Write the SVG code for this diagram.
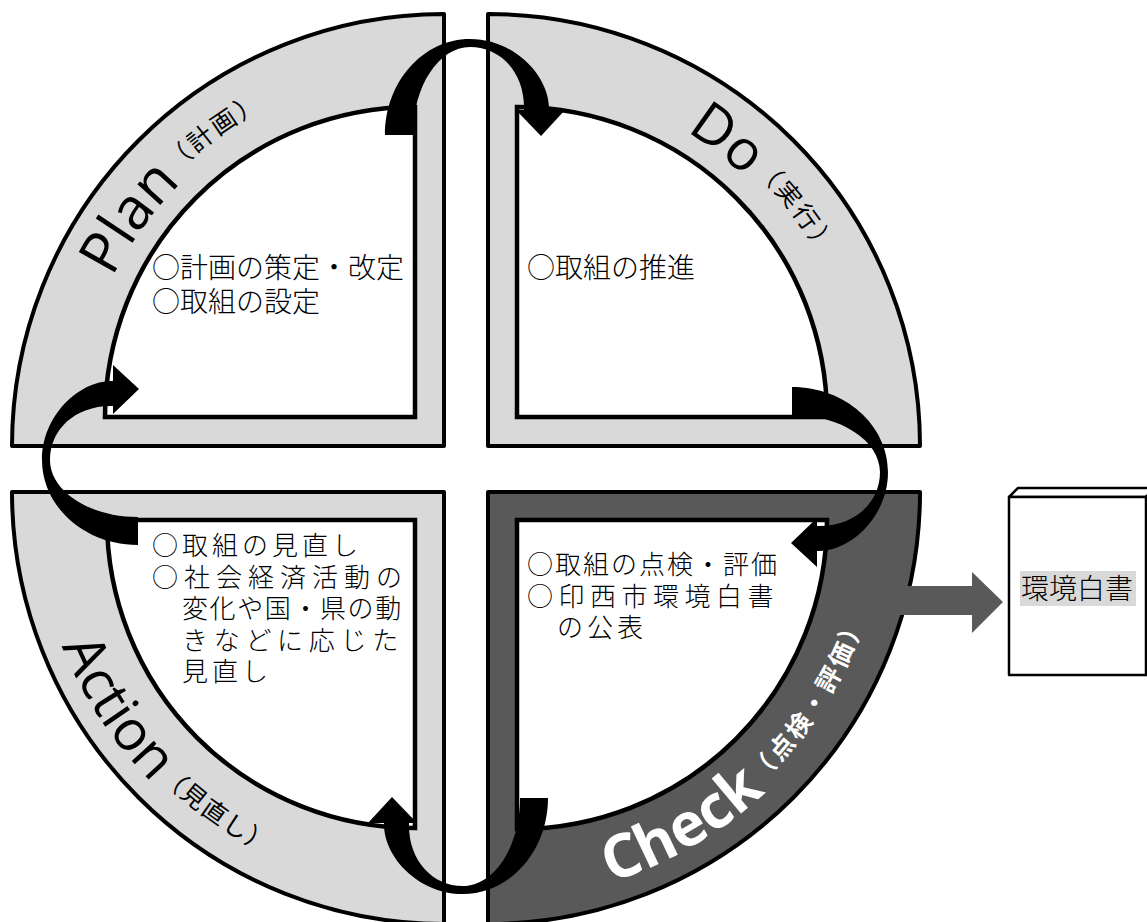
<svg xmlns="http://www.w3.org/2000/svg" xmlns:xlink="http://www.w3.org/1999/xlink" width="1147" height="922" viewBox="0 0 1147 922">
<style>
.ring{fill:#d9d9d9;stroke:#000;stroke-width:4;stroke-linejoin:round}
.ringd{fill:#595959;stroke:#000;stroke-width:4;stroke-linejoin:round}
.inner{fill:#fff;stroke:#000;stroke-width:4.5;stroke-linejoin:miter}
.body{font-family:"Noto Sans CJK JP",sans-serif;font-size:28px;font-weight:300;fill:#000}
.b26{font-size:26px}
.lbl{font-family:"Open Sans","Noto Sans CJK JP",sans-serif;fill:#000}
.sm{font-family:"Noto Sans CJK JP",sans-serif;font-size:25px;letter-spacing:2px}
.chk{font-family:"Open Sans","Noto Sans CJK JP",sans-serif;font-size:60px;font-weight:bold;fill:#fff}
.chksm{font-family:"Noto Sans CJK JP",sans-serif;font-size:25px;font-weight:bold;letter-spacing:4px}
.arr{fill:#000}
.box{fill:#fff;stroke:#000;stroke-width:2.5;stroke-linejoin:round}
</style>
<defs>
<path id="carrow" d="M -85,0 C -85,-53 -47,-96 0,-96 C 45,-96 80,-58 79,-25 L 95,-25 L 71,1 L 46,-25 L 54,-25 C 55,-62 31,-88 0,-88 C -31,-88 -57,-49 -57,0 Z"/>
<path id="pPlan" d="M 72,446 A 372 372 0 0 1 444,74"/>
<path id="pDo" d="M 488,74 A 372 372 0 0 1 860,446"/>
<path id="pAction" d="M 32,492 A 412 412 0 0 0 444,904"/>
<path id="pCheck" d="M 488,901 A 409 409 0 0 0 897,492"/>
</defs>

<g id="plan">
<path class="ring" d="M 444,446 L 12,446 A 432 432 0 0 1 444,14 Z"/>
<path class="inner" d="M 415,417 L 105,417 A 310 310 0 0 1 415,107 Z"/>
<text class="lbl" font-size="58"><textPath href="#pPlan" startOffset="175">Plan<tspan class="sm" dy="-11" dx="3">（計画）</tspan></textPath></text>
<text class="body" x="152" y="278">○計画の策定・改定</text>
<text class="body" x="152" y="312">○取組の設定</text>
</g>

<g id="do">
<path class="ring" d="M 488,446 L 488,14 A 432 432 0 0 1 920,446 Z"/>
<path class="inner" d="M 517,417 L 517,107 A 310 310 0 0 1 827,417 Z"/>
<text class="lbl" font-size="56"><textPath href="#pDo" startOffset="209">Do<tspan class="sm" dy="-11" dx="2">（実行）</tspan></textPath></text>
<text class="body" x="527" y="278">○取組の推進</text>
</g>

<g id="action">
<path class="ring" d="M 444,492 L 444,924 A 432 432 0 0 1 12,492 Z"/>
<path class="inner" d="M 415,520 L 107,520 A 308 308 0 0 0 415,828 Z"/>
<text class="lbl" font-size="56"><textPath href="#pAction" startOffset="158">Action<tspan class="sm" dy="-9" dx="2">（見直し）</tspan></textPath></text>
<text class="body b26" x="152" y="555" letter-spacing="4">○取組の見直し</text>
<text class="body b26" x="152" y="587" letter-spacing="6">○社会経済活動の</text>
<text class="body b26" x="182" y="618" letter-spacing="1.6">変化や国・県の動</text>
<text class="body b26" x="182" y="650" letter-spacing="5.7">きなどに応じた</text>
<text class="body b26" x="182" y="681" letter-spacing="4">見直し</text>
</g>

<g id="check">
<path class="ringd" d="M 488,492 L 920,492 A 432 432 0 0 1 488,924 Z"/>
<path class="inner" d="M 517,520 L 827,520 A 309 309 0 0 1 517,829 Z"/>
<text class="chk"><textPath href="#pCheck" startOffset="124">Check<tspan class="chksm" dy="-11" dx="3">（点検・評価）</tspan></textPath></text>
<text class="body b26" x="527" y="574" letter-spacing="2">○取組の点検・評価</text>
<text class="body b26" x="527" y="606" letter-spacing="5.5">○印西市環境白書</text>
<text class="body b26" x="557" y="637" letter-spacing="4">の公表</text>
</g>

<g id="book">
<polygon class="box" points="1009,497 1018,488 1155,488 1146,497"/>
<polygon class="box" points="1146,497 1155,488 1155,666 1146,675"/>
<rect class="box" x="1009" y="497" width="137" height="178"/>
<rect x="1020" y="571" width="116" height="35" fill="#d9d9d9"/>
<text class="body" x="1021" y="599" font-size="27">環境白書</text>
</g>

<g id="connectors">
<use href="#carrow" class="arr" transform="translate(470,135)"/>
<use href="#carrow" class="arr" transform="translate(792,472) rotate(90)"/>
<use href="#carrow" class="arr" transform="translate(463,798) rotate(180)"/>
<use href="#carrow" class="arr" transform="translate(138,460) rotate(270)"/>
<path d="M 880,586 L 972,586 L 972,572 L 1003,602 L 972,633 L 972,615 L 880,615 Z" fill="#595959"/>
</g>
</svg>
